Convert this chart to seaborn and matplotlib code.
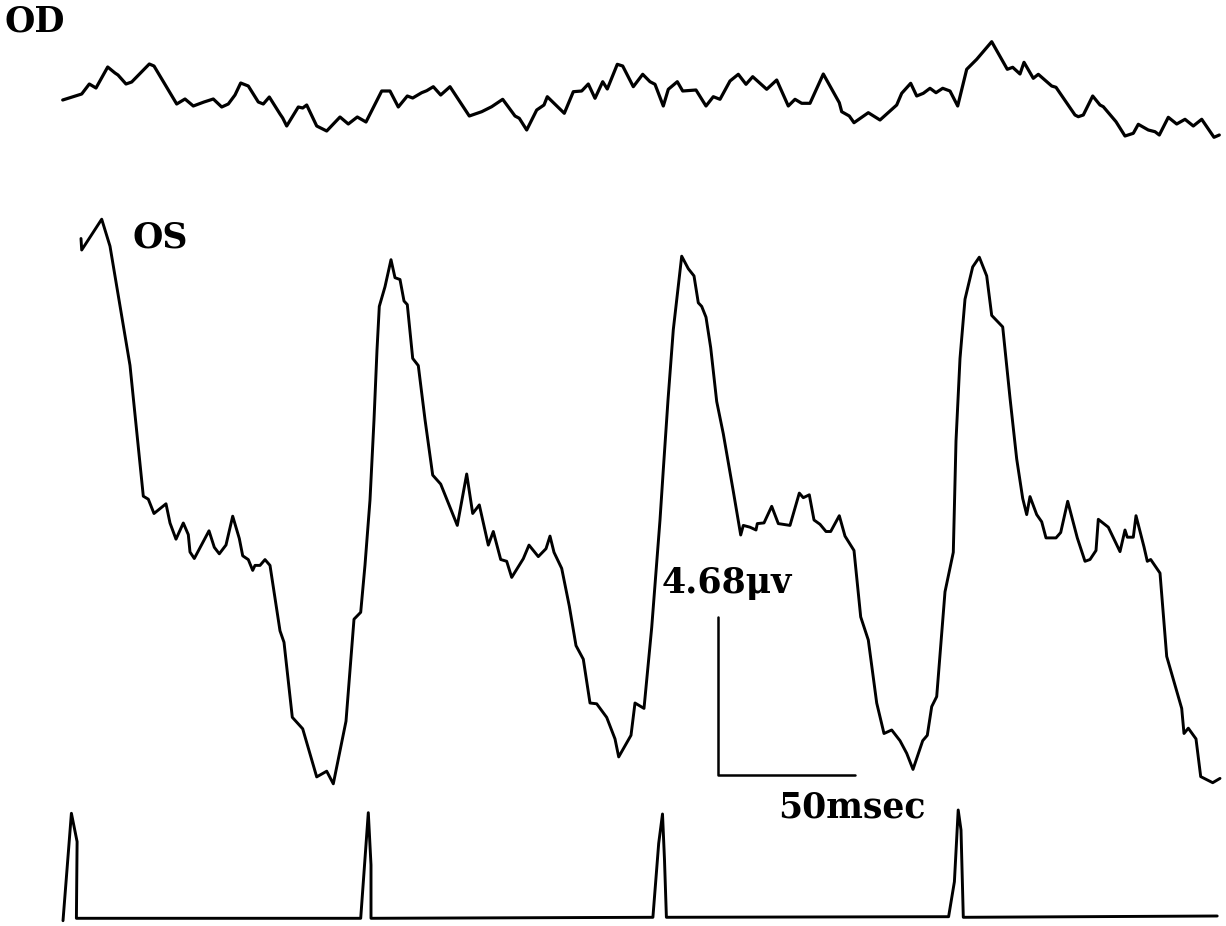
import matplotlib
matplotlib.use("Agg")
import matplotlib.pyplot as plt
import pandas as pd
import seaborn as sns

od_x = [62.7, 81.7, 89.3, 96, 107.7, 115, 118, 126, 131.7, 149.3, 154, 176.7, 185, 193.3, 204, 213.3,
        221.7, 228.3, 235, 240.7, 248.3, 258.3, 263.3, 269.3, 280, 282.7, 286.7, 298.3, 302.7, 306.7,
        316.7, 326.7, 340, 348.3, 357.3, 366, 381.7, 390, 398.3, 407.3, 412.7, 421.7, 426.7, 433.3,
        440.7, 450, 469.3, 481.7, 491.7, 502.7, 515, 519.3, 526.7, 536.7, 544, 547.3, 564.3, 573.3,
        581.7, 588.3, 595, 602.7, 607.3, 617.3, 622.7, 633.3, 642.7, 650, 655, 663.3, 668.3, 677.3,
        682.7, 696, 706, 713.3, 720, 730, 738.3, 746, 752.7, 766.7, 776.7, 788.3, 795, 801.7, 810,
        823.3, 839.3, 841.7, 849.3, 854, 868.3, 880, 896.7, 901.7, 910.7, 916.7, 923.3, 930, 936,
        942.7, 950, 957.7, 966.7, 976.7, 991.7, 1007.3, 1012.7, 1020, 1024, 1033.3, 1038.3, 1051.7,
        1056, 1075, 1078.3, 1083.3, 1092.7, 1100, 1103.3, 1116, 1125, 1133.3, 1138.3, 1148.3, 1155,
        1159.3, 1168.3, 1176.7, 1185, 1193.3, 1201.7, 1214, 1219.3]
od_y = [100, 94, 84, 88, 67, 73, 75, 84, 82, 64, 66, 104, 99, 106, 102, 99,
        107, 104, 95, 83, 86, 102, 104, 97, 114, 118, 126, 107, 108, 105,
        126, 131, 117, 124, 117, 122, 91, 91, 107, 96, 98, 92.7, 90.7, 86.7,
        95, 86.7, 116, 111.7, 106.7, 99.3, 116, 118.3, 130, 110, 105, 96.7, 113.3, 91.7,
        91, 84, 98.3, 81.7, 89, 64.3, 66, 86.7, 74.3, 81.7, 84.3, 106, 89.3, 81.7,
        91, 90, 106, 96.7, 99.3, 81, 74.3, 84.3, 76.7, 89.3, 80, 106, 99.3, 103.3, 103.3,
        74, 102.7, 111.7, 116, 122.7, 112.7, 120, 105, 93.3, 83.3, 96, 93.3, 88.3, 92.7,
        88.3, 91, 106, 69.3, 59.3, 41.7, 69.3, 67.3, 74, 62.3, 78.3, 74.3, 86,
        87.3, 115, 116.7, 115, 96, 105, 106.7, 121.7, 136, 133.3, 124.3, 130, 131.7,
        135, 117.3, 124, 119.3, 126, 119.3, 137.3, 135]

os_x = [81, 81.7, 101.7, 110, 130, 143.3, 148.3, 154, 166, 170, 176, 183.3, 188.3, 190, 194.3, 209,
        214.3, 219.3, 226, 232.7, 239.3, 242.7, 248.3, 252.7, 255, 260, 265, 270, 280, 284, 292.3,
        302.7, 316.7, 326.7, 333.3, 346, 354, 360.7, 365, 370, 374, 377, 379.3, 385, 391, 395, 400,
        404, 407.3, 412.7, 418.3, 425, 432.7, 440.7, 457.3, 466.7, 472.7, 479.3, 488.3, 493.3, 500.7,
        506.7, 511.7, 523.3, 529, 538.3, 546, 550, 554, 561.7, 569.3, 576, 583.3, 590, 596.7, 606.7,
        615, 618.7, 631, 635, 644, 651.7, 655, 660, 663.3, 668, 673.3, 681.7, 688.3, 694, 698.3,
        701.7, 706, 710.7, 716.7, 723.3, 733.3, 740.7, 743.3, 750, 756, 757.3, 764, 771.7, 778.3,
        790, 799.3, 803.3, 809.3, 814, 820, 826, 830.7, 839.3, 845, 854, 860.7, 868.3, 876.7, 884,
        891.7, 900, 906.7, 913, 922.7, 927.3, 931.7, 936.7, 940.7, 945, 953.3, 956, 960, 965, 972.7,
        979.3, 986.7, 991.7, 1002.7, 1010, 1016.7, 1022.7, 1026.7, 1030, 1036.7, 1041.7, 1046, 1056,
        1060.7, 1067.7, 1077.3, 1085, 1090, 1096, 1098.3, 1108.3, 1120, 1125, 1127.3, 1133.3, 1136,
        1144, 1147.3, 1150.7, 1160, 1166.7, 1181.7, 1184, 1188.3, 1196, 1200.7, 1212.7, 1220]
os_y = [238.5, 250, 219.2, 246.2, 365.4, 496.2, 499.2, 513.5, 503.8, 523, 539.2, 523, 534.6, 552, 558.5, 530.8,
        547.3, 553.8, 545, 516.2, 538.5, 555.8, 559.6, 570.4, 565.4, 565.4, 559.6, 565.4, 630.8, 642.3, 717.3,
        728.8, 776.9, 771.2, 783.8, 721.2, 619.2, 612.3, 565, 500, 420, 350, 306.4, 286.7, 259.7, 277.7, 279.5,
        301, 304.6, 358.4, 365.6, 419.5, 475.1, 484.1, 525.4, 474, 513.5, 504.9, 545.1, 531.5, 559.5,
        561.3, 577.4, 558.7, 545.1, 556.6, 548.7, 536.1, 552.3, 568.4, 606.1, 645.6, 659.2, 703, 703.8, 717.4,
        738.9, 756.9, 735.3, 703, 708.4, 627.6, 585, 520, 469.7, 400, 329.7, 256.2, 268.7, 275.9, 302.8,
        306.4, 317.2, 347.7, 401.5, 433.8, 491.3, 535, 525.4, 527.2, 530, 523.6, 522.9, 506.3, 523.6,
        525.4, 493.1, 497.7, 494.8, 520, 524.3, 531.5, 531.5, 515.7, 536.1, 550.5, 616.9, 640, 703, 733.5,
        730, 740.7, 753.3, 769.4, 740.7, 735.3, 706.6, 696.6, 645.6, 591.8, 552.3, 441, 358.5, 299.2, 266.9,
        257.2, 275.9, 315.4, 326.9, 397.9, 459, 498.4, 514.6, 496.6, 514.6, 521.8, 537.9, 537.9,
        532.5, 501.3, 537.9, 561.3, 559.5, 550.5, 519.3, 527.2, 551.6, 530, 537.2, 537.2, 515.7,
        546.9, 561.3, 559.5, 573.1, 656.4, 708.4, 733.5, 728.2, 738.9, 776.6, 782.7, 778.4]

trig_x = [63, 71.4, 77.1, 76.4, 360.7, 368.3, 371, 371, 652.9, 658.7, 662.5, 664.5, 666.4,
          948.6, 954.4, 958.2, 961, 963.3, 1217.2]
trig_y = [920.7, 813.3, 841.7, 918.3, 918.3, 812.7, 865, 918.3, 917.3, 843.3, 814, 860, 917.3,
          916.7, 881.7, 810, 830, 917.3, 916]

labels = ["OD", "OS"]
scale_amp_uv = 4.68
scale_time_ms = 50
scale_amp_label = "4.68\u03bcv"
scale_time_label = "50msec"

# calibration of the record (from the scale bar)
PX_PER_MS = 137 / 50.0
PX_PER_UV = 158 / 4.68
T0 = 62.0


def to_ms(xs):
    return [(x - T0) / PX_PER_MS for x in xs]


def to_uv(ys):
    return [-y / PX_PER_UV for y in ys]


sns.set_style("white")
W, H = 1226, 926
fig = plt.figure(figsize=(W / 100, H / 100), dpi=100)
ax = fig.add_axes([0, 0, 1, 1])

for xs, ys, lw in [(od_x, od_y, 2.3), (os_x, os_y, 2.1), (trig_x, trig_y, 2.1)]:
    df = pd.DataFrame({"t": to_ms(xs), "v": to_uv(ys)})
    sns.lineplot(data=df, x="t", y="v", ax=ax, color="black", linewidth=lw,
                 sort=False, estimator=None, legend=False)

# scale bar
bar_t0 = (718 - T0) / PX_PER_MS
bar_v0 = -775 / PX_PER_UV
ax.plot([bar_t0, bar_t0, bar_t0 + scale_time_ms],
        [bar_v0 + scale_amp_uv, bar_v0, bar_v0], color="black", linewidth=1.8)

ax.set_xlim((0 - T0) / PX_PER_MS, (W - T0) / PX_PER_MS)
ax.set_ylim(-H / PX_PER_UV, 0)
ax.axis("off")

font = dict(family="DejaVu Serif", fontweight="bold", fontsize=25, color="black")
fig.text(4 / W, 1 - 32 / H, labels[0], ha="left", va="baseline", **font)
fig.text(132 / W, 1 - 247 / H, labels[1], ha="left", va="baseline", **font)
fig.text(662 / W, 1 - 593 / H, scale_amp_label, ha="left", va="baseline", **font)
fig.text(778 / W, 1 - 818 / H, scale_time_label, ha="left", va="baseline", **font)

fig.savefig("out.png", dpi=100, facecolor="white")
